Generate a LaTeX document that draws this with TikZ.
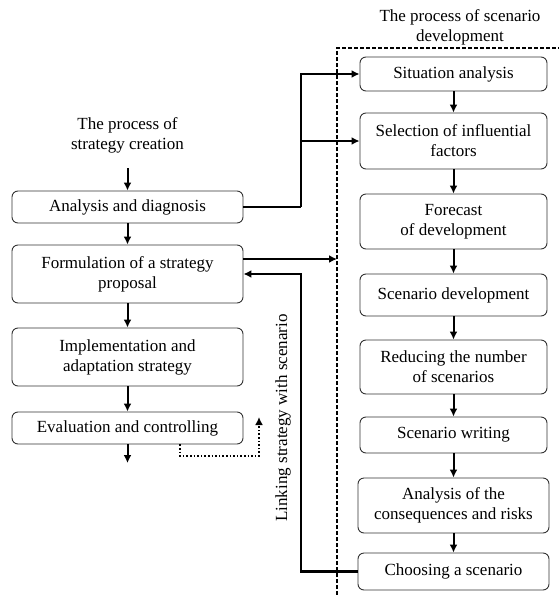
\documentclass[tikz,border=0pt]{standalone}
\usepackage{fontspec}
\setmainfont{Liberation Serif}
\usetikzlibrary{arrows.meta}
\begin{document}
\begin{tikzpicture}[x=1pt,y=-1pt,
  every node/.style={font=\fontsize{17}{20}\selectfont, align=center},
  box/.style={draw=black!80, line width=0.9pt, rounded corners=6pt, inner sep=0pt},
  lbox/.style={box, minimum width=231pt},
  rbox/.style={box, minimum width=187pt},
  wbox/.style={box, minimum width=191pt},
  arr/.style={line width=2pt, -{Latex[length=8pt,width=8pt]}},
  conn/.style={line width=2.2pt},
  dotarr/.style={line width=1.6pt, dotted, -{Latex[length=8pt,width=8pt]}},
  frame/.style={line width=1.5pt, dash pattern=on 4pt off 2pt}]
\useasboundingbox (0,0) rectangle (559,595);

% titles
\node (lt) at (127.5,135) {The process of\\strategy creation};
\node (rt) at (460,27) {The process of scenario\\development};

% left boxes
\node[lbox, minimum height=32pt] (A) at (127.5,207) {Analysis and diagnosis};
\node[lbox, minimum height=58pt] (F) at (127.5,274) {Formulation of a strategy\\proposal};
\node[lbox, minimum height=58pt] (I) at (127.5,357) {Implementation and\\adaptation strategy};
\node[lbox, minimum height=32pt] (E) at (127.5,428) {Evaluation and controlling};

% right boxes
\node[rbox, minimum height=34pt] (S1) at (453.5,74) {Situation analysis};
\node[rbox, minimum height=56pt] (S2) at (453.5,141) {Selection of influential\\factors};
\node[rbox, minimum height=55pt] (S3) at (453.5,221.5) {Forecast\\of development};
\node[rbox, minimum height=42pt] (S4) at (453.5,295) {Scenario development};
\node[rbox, minimum height=54pt] (S5) at (453.5,367) {Reducing the number\\of scenarios};
\node[rbox, minimum height=36pt] (S6) at (453.5,435) {Scenario writing};
\node[wbox, minimum height=55pt] (S7) at (453.5,505.5) {Analysis of the\\consequences and risks};
\node[wbox, minimum height=37pt] (S8) at (453.5,571.5) {Choosing a scenario};

% helper coordinates
\coordinate (t0) at (127.5,168);
\coordinate (e0) at (127.5,463);
\coordinate (j) at (301,207);
\coordinate (fo) at (243,259);
\coordinate (dl) at (337,259);
\coordinate (d0) at (180,456);
\coordinate (dd) at (259,417);
\coordinate (fr) at (337,48);
\coordinate (frb) at (337,595);
\coordinate (frr) at (559,48);

% dashed frame
\draw[frame] (frb) -- (fr) -- (frr);

% left chain
\draw[arr] (t0) -- (A);
\draw[arr] (A) -- (F);
\draw[arr] (F) -- (I);
\draw[arr] (I) -- (E);
\draw[arr] (E) -- (e0);

% right chain
\draw[arr] (S1) -- (S2);
\draw[arr] (S2) -- (S3);
\draw[arr] (S3) -- (S4);
\draw[arr] (S4) -- (S5);
\draw[arr] (S5) -- (S6);
\draw[arr] (S6) -- (S7);
\draw[arr] (S7) -- (S8);

% analysis to scenario process
\draw[conn] (A.east) -- (j);
\draw[arr, line width=2.2pt] (j) |- (S1.west);
\draw[arr, line width=2.2pt] (j |- S2.west) -- (S2.west);

% formulation to frame
\draw[arr, line width=2.2pt] (fo) -- (dl);

% feedback
\draw[arr, line width=2.2pt] (S8.west) -| (j |- F.east) -- (F.east);

% dotted loop
\draw[dotarr] (d0 |- E.south) -- (d0) -| (dd);

% vertical label
\node[rotate=90] (lk) at (283,418) {Linking strategy with scenario};
\end{tikzpicture}
\end{document}
